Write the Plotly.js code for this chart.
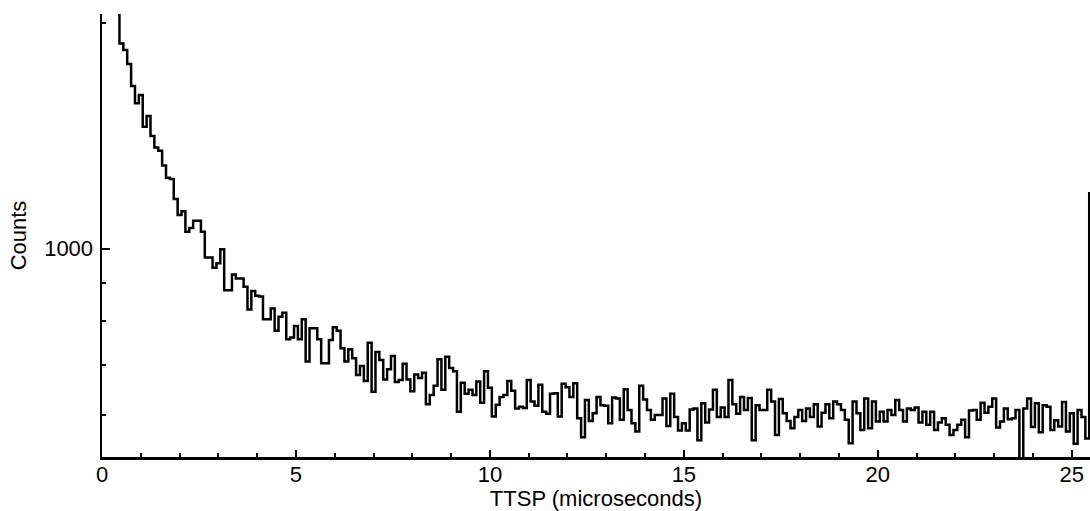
<!DOCTYPE html>
<html>
<head>
<meta charset="utf-8">
<script src="https://cdn.plot.ly/plotly-3.0.1.min.js"></script>
<style>
  html, body { margin: 0; padding: 0; background: #ffffff; }
  #chart { width: 1090px; height: 511px; }
</style>
</head>
<body>
<div id="chart"></div>
<script>
// Histogram of TTSP, bin width 0.1 microseconds, first bin centred at 0.4
const binStart = 0.4;
const binWidth = 0.1;
const counts = [
  2300, 1877, 1839, 1762, 1647, 1562, 1602, 1453, 1502, 1413,
  1364, 1350, 1290, 1243, 1238, 1164, 1108, 1121, 1053, 1065,
  1089, 1089, 1053, 973, 973, 943, 956, 998, 880, 880,
  923, 912, 912, 889, 829, 878, 865, 863, 805, 805,
  832, 777, 811, 821, 757, 761, 788, 757, 805, 707,
  783, 783, 757, 703, 703, 755, 785, 777, 736, 707,
  734, 714, 678, 697, 666, 749, 644, 728, 710, 669,
  690, 719, 664, 668, 702, 669, 645, 679, 672, 683,
  620, 638, 656, 712, 648, 717, 693, 686, 606, 662,
  640, 648, 638, 665, 623, 686, 652, 597, 619, 634,
  638, 666, 646, 612, 615, 613, 668, 625, 617, 658,
  606, 602, 640, 641, 597, 660, 653, 634, 661, 594,
  560, 628, 589, 603, 634, 618, 617, 585, 633, 631,
  591, 649, 609, 585, 570, 656, 629, 609, 591, 600,
  600, 631, 580, 640, 596, 572, 585, 572, 610, 612,
  555, 622, 586, 610, 648, 596, 614, 596, 668, 620,
  602, 634, 609, 632, 555, 618, 609, 609, 648, 625,
  564, 630, 603, 589, 576, 596, 609, 589, 612, 596,
  620, 579, 604, 620, 594, 625, 620, 609, 591, 550,
  625, 603, 573, 631, 576, 625, 588, 606, 588, 609,
  600, 628, 609, 588, 612, 609, 614, 586, 606, 582,
  606, 573, 586, 594, 582, 564, 573, 582, 591, 560,
  608, 609, 591, 623, 604, 615, 631, 577, 588, 612,
  592, 594, 609, 500, 612, 631, 578, 622, 569, 618,
  615, 573, 590, 579, 624, 570, 603, 549, 609, 596,
  558, 1185
];
const binCenters = counts.map((_, i) => +(binStart + i * binWidth).toFixed(2));

const xTickVals = [0, 5, 10, 15, 20, 25];
const xTickText = ['0', '5', '10', '15', '20', '25'];
const yTickVals = [1000];
const yTickText = ['1000'];
const yMinorVals = [600, 700, 800, 900, 2000];

const fontFamily = 'Liberation Sans, Arial, Helvetica, sans-serif';
const fontSize = 22;

const trace = {
  x: binCenters,
  y: counts,
  type: 'scatter',
  mode: 'lines',
  line: { shape: 'hvh', color: '#000000', width: 2.5 },
  hoverinfo: 'x+y'
};

const layout = {
  width: 1090,
  height: 511,
  margin: { l: 102, r: 0, t: 14, b: 54, pad: 0 },
  paper_bgcolor: '#ffffff',
  plot_bgcolor: '#ffffff',
  showlegend: false,
  font: { family: fontFamily, size: fontSize, color: '#000000' },
  xaxis: {
    range: [0, 25.47],
    showgrid: false,
    zeroline: false,
    showline: true,
    linecolor: '#000000',
    linewidth: 2.5,
    ticks: 'inside',
    ticklen: 7,
    tickwidth: 2,
    tickcolor: '#000000',
    tickmode: 'array',
    tickvals: xTickVals,
    ticktext: xTickText,
    ticklabelstandoff: -4,
    tickfont: { family: fontFamily, size: fontSize, color: '#000000' },
    minor: { dtick: 1, tick0: 0, ticks: 'inside', ticklen: 4, tickwidth: 2, tickcolor: '#000000', showgrid: false },
    title: { text: 'TTSP (microseconds)', font: { family: fontFamily, size: fontSize, color: '#000000' }, standoff: 0 }
  },
  yaxis: {
    type: 'log',
    range: [2.722, 3.3127],
    showgrid: false,
    zeroline: false,
    showline: true,
    linecolor: '#000000',
    linewidth: 2.5,
    ticks: 'inside',
    ticklen: 8,
    tickwidth: 2,
    tickcolor: '#000000',
    tickmode: 'array',
    tickvals: yTickVals,
    ticktext: yTickText,
    ticklabelstandoff: 2,
    tickfont: { family: fontFamily, size: fontSize, color: '#000000' },
    minor: { tickmode: 'array', tickvals: yMinorVals, ticks: 'inside', ticklen: 4, tickwidth: 2, tickcolor: '#000000', showgrid: false },
    title: { text: 'Counts', font: { family: fontFamily, size: fontSize, color: '#000000' }, standoff: 12 }
  }
};

Plotly.newPlot('chart', [trace], layout, { displayModeBar: false, staticPlot: true });
</script>
</body>
</html>
